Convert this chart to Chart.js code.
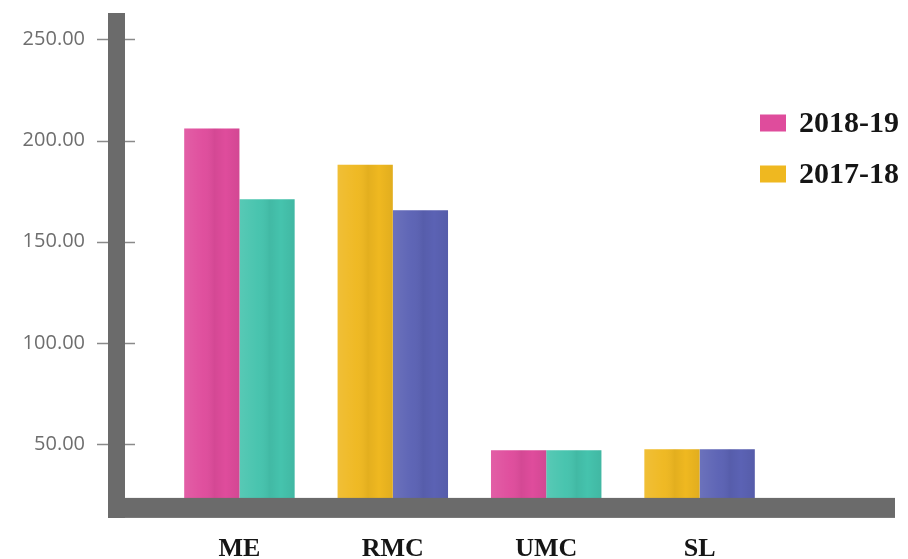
<!DOCTYPE html>
<html>
<head>
<meta charset="utf-8">
<script src="https://cdn.jsdelivr.net/npm/chart.js@4"></script>
<style>
  html, body { margin: 0; padding: 0; background: #ffffff; }
  #wrap { width: 908px; height: 559px; }
</style>
</head>
<body>
<div id="wrap"><canvas id="c" width="908" height="559"></canvas></div>
<script>
// Categories and values
const categories = ['ME', 'RMC', 'UMC', 'SL'];
const seriesLabels = ['2018-19', '2017-18'];
const values2018 = [206, 188, 47, 47.5];
const values2017 = [171, 165.5, 47, 47.5];
const yTickValues = [50, 100, 150, 200, 250];

// Colours: each group alternates between a pink/teal and a yellow/blue pair
const PINK = '#df4c9c';
const TEAL = '#45c3ad';
const YELLOW = '#efb820';
const BLUE = '#5b62b4';
const leftColors = [PINK, YELLOW, PINK, YELLOW];
const rightColors = [TEAL, BLUE, TEAL, BLUE];
const legendColors = [PINK, YELLOW];
const AXIS_GRAY = '#6b6b6b';

const toPoints = arr => arr.map((v, i) => ({ x: i, y: v }));

// Subtle vertical shading on each bar
const barShading = {
  id: 'barShading',
  afterDatasetsDraw(chart) {
    const ctx = chart.ctx;
    const area = chart.chartArea;
    ctx.save();
    ctx.beginPath();
    ctx.rect(area.left, area.top, area.right - area.left, area.bottom - area.top);
    ctx.clip();
    chart.data.datasets.forEach((ds, di) => {
      chart.getDatasetMeta(di).data.forEach(bar => {
        const p = bar.getProps(['x', 'y', 'base', 'width'], true);
        const l = p.x - p.width / 2;
        const g = ctx.createLinearGradient(l, 0, l + p.width, 0);
        g.addColorStop(0, 'rgba(255,255,255,0.10)');
        g.addColorStop(0.35, 'rgba(255,255,255,0.02)');
        g.addColorStop(0.55, 'rgba(0,0,0,0.05)');
        g.addColorStop(0.75, 'rgba(0,0,0,0.0)');
        g.addColorStop(1, 'rgba(0,0,0,0.06)');
        ctx.fillStyle = g;
        ctx.fillRect(l, p.y, p.width, p.base - p.y);
      });
    });
    ctx.restore();
  }
};

// Thick grey axes with tick marks, plus legend at the right
const axesAndLegend = {
  id: 'axesAndLegend',
  afterDraw(chart) {
    const ctx = chart.ctx;
    const area = chart.chartArea;
    const y = chart.scales.y;
    ctx.save();
    // tick marks
    ctx.strokeStyle = '#8a8a8a';
    ctx.lineWidth = 1.5;
    y.ticks.forEach(t => {
      const py = Math.round(y.getPixelForValue(t.value)) + 0.5;
      ctx.beginPath();
      ctx.moveTo(area.left - 28, py);
      ctx.lineTo(area.left + 10, py);
      ctx.stroke();
    });
    // vertical axis bar
    ctx.fillStyle = AXIS_GRAY;
    ctx.fillRect(area.left - 17, 13, 17, area.bottom + 3 - 13);
    // horizontal axis bar
    ctx.fillRect(area.left - 17, area.bottom - 17, area.right - area.left + 17, 20);

    // legend
    ctx.textBaseline = 'middle';
    ctx.textAlign = 'left';
    ctx.font = 'bold 30px "Liberation Serif", "Times New Roman", serif';
    seriesLabels.forEach((lab, i) => {
      const cy = 123 + i * 51;
      ctx.fillStyle = legendColors[i];
      ctx.fillRect(760, cy - 8.5, 26, 17);
      ctx.fillStyle = '#151515';
      ctx.fillText(lab, 799, cy + 1);
    });
    ctx.restore();
  }
};

new Chart(document.getElementById('c'), {
  type: 'bar',
  data: {
    datasets: [
      { label: seriesLabels[0], data: toPoints(values2018), backgroundColor: leftColors, borderWidth: 0 },
      { label: seriesLabels[1], data: toPoints(values2017), backgroundColor: rightColors, borderWidth: 0 }
    ]
  },
  options: {
    responsive: false,
    animation: false,
    categoryPercentage: 0.72,
    barPercentage: 1.0,
    layout: { padding: { top: 7, right: 13, bottom: 0, left: 0 } },
    plugins: {
      legend: { display: false },
      tooltip: { enabled: false }
    },
    scales: {
      x: {
        type: 'linear',
        offset: false,
        min: -0.746,
        max: 4.274,
        grid: { display: false },
        border: { display: false },
        afterBuildTicks: s => { s.ticks = categories.map((_, i) => ({ value: i })); },
        afterFit: s => { s.height = 44.1; },
        ticks: {
          padding: 11,
          color: '#151515',
          font: { family: '"Liberation Serif", "Times New Roman", serif', size: 26, weight: 'bold' },
          callback: v => categories[v]
        }
      },
      y: {
        min: 15,
        max: 266,
        grid: { display: false },
        border: { display: false },
        afterBuildTicks: s => { s.ticks = yTickValues.map(v => ({ value: v })); },
        afterFit: s => { s.width = 125; s.paddingTop = 0; s.paddingBottom = 0; },
        ticks: {
          padding: 32,
          color: '#6e6e6e',
          font: { family: '"Open Sans", sans-serif', size: 20 },
          callback: v => Number(v).toFixed(2)
        }
      }
    }
  },
  plugins: [barShading, axesAndLegend]
});
</script>
</body>
</html>
